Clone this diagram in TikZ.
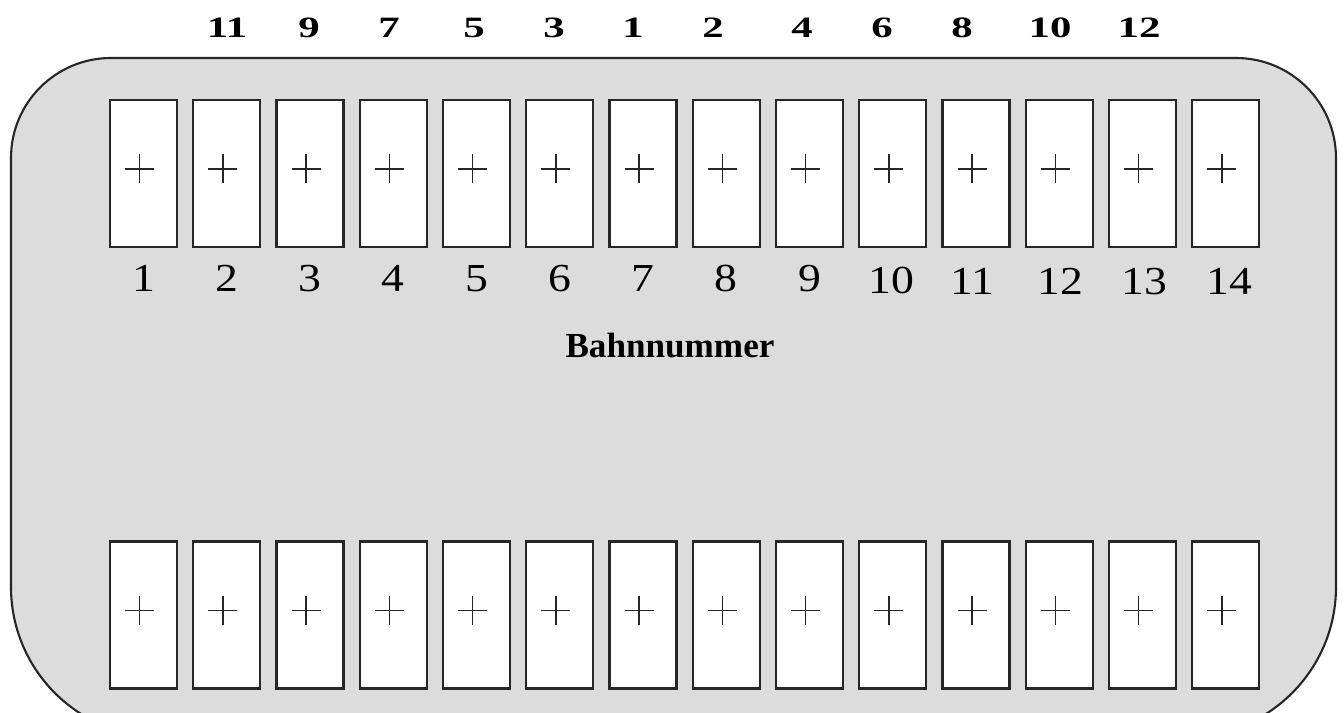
\documentclass[tikz,border=0pt]{standalone}
\usepackage{fontspec}
\setmainfont{Liberation Serif}
\newfontfamily\lanefont[FakeStretch=1.15]{Liberation Serif}
\newfontfamily\startfont[FakeStretch=1.45]{Liberation Serif}
\usepackage{xcolor}
\usepackage{tikz}
\definecolor{LaneGray}{HTML}{DCDCDC}
\definecolor{LaneLine}{HTML}{262626}
\tikzset{
  lane/.style={draw=LaneLine,line width=0.6pt,fill=white,minimum width=0.67cm,minimum height=1.47cm,inner sep=0pt,
    path picture={
      \draw[LaneLine,line width=0.45pt] ([xshift=-0.185cm,yshift=0.045cm]path picture bounding box.center) -- ++(0.29,0);
      \draw[LaneLine,line width=0.45pt] ([xshift=-0.04cm,yshift=-0.10cm]path picture bounding box.center) -- ++(0,0.29);
    }},
  lanenum/.style={anchor=base,inner sep=0pt,font=\lanefont\fontsize{11.3}{13}\selectfont},
  startnum/.style={anchor=base,inner sep=0pt,font=\startfont\bfseries\fontsize{8.4}{10}\selectfont}
}

\begin{document}
\begin{tikzpicture}[x=1cm,y=1cm]
\path[use as bounding box] (0,0) rectangle (13.44,7.13);
\begin{scope}
\clip (0,0) rectangle (13.44,7.13);
\draw[LaneLine,fill=LaneGray,line width=0.6pt] (0.11,3) [rounded corners=1.0cm] -- (0.11,6.55) -- (13.36,6.55) -- (13.36,3)
  [rounded corners=1.5cm] -- (13.36,-0.24) -- (0.11,-0.24) -- cycle;
\end{scope}
% top row
\node[lane] (t1) at (1.435,5.395) {};
\node[lane] (t2) at (2.268,5.395) {};
\node[lane] (t3) at (3.100,5.395) {};
\node[lane] (t4) at (3.933,5.395) {};
\node[lane] (t5) at (4.765,5.395) {};
\node[lane] (t6) at (5.598,5.395) {};
\node[lane] (t7) at (6.430,5.395) {};
\node[lane] (t8) at (7.263,5.395) {};
\node[lane] (t9) at (8.095,5.395) {};
\node[lane] (t10) at (8.928,5.395) {};
\node[lane] (t11) at (9.760,5.395) {};
\node[lane] (t12) at (10.593,5.395) {};
\node[lane] (t13) at (11.425,5.395) {};
\node[lane] (t14) at (12.258,5.395) {};
% bottom row
\node[lane] (b1) at (1.435,0.98) {};
\node[lane] (b2) at (2.268,0.98) {};
\node[lane] (b3) at (3.100,0.98) {};
\node[lane] (b4) at (3.933,0.98) {};
\node[lane] (b5) at (4.765,0.98) {};
\node[lane] (b6) at (5.598,0.98) {};
\node[lane] (b7) at (6.430,0.98) {};
\node[lane] (b8) at (7.263,0.98) {};
\node[lane] (b9) at (8.095,0.98) {};
\node[lane] (b10) at (8.928,0.98) {};
\node[lane] (b11) at (9.760,0.98) {};
\node[lane] (b12) at (10.593,0.98) {};
\node[lane] (b13) at (11.425,0.98) {};
\node[lane] (b14) at (12.258,0.98) {};
% lane numbers
\node[lanenum] (n1) at (1.435,4.21) {1};
\node[lanenum] (n2) at (2.268,4.21) {2};
\node[lanenum] (n3) at (3.100,4.21) {3};
\node[lanenum] (n4) at (3.933,4.21) {4};
\node[lanenum] (n5) at (4.765,4.21) {5};
\node[lanenum] (n6) at (5.598,4.21) {6};
\node[lanenum] (n7) at (6.430,4.21) {7};
\node[lanenum] (n8) at (7.263,4.21) {8};
\node[lanenum] (n9) at (8.095,4.21) {9};
\node[lanenum] (n10) at (8.910,4.19) {10};
\node[lanenum] (n11) at (9.720,4.18) {11};
\node[lanenum] (n12) at (10.605,4.18) {12};
\node[lanenum] (n13) at (11.445,4.18) {13};
\node[lanenum] (n14) at (12.290,4.18) {14};
\node[anchor=base,inner sep=0pt,font=\bfseries\fontsize{10}{12}\selectfont] (title) at (6.70,3.55) {Bahnnummer};
% start order
\node[startnum] (s11) at (2.27,6.75) {11};
\node[startnum] (s9) at (3.09,6.75) {9};
\node[startnum] (s7) at (3.89,6.75) {7};
\node[startnum] (s5) at (4.74,6.75) {5};
\node[startnum] (s3) at (5.54,6.75) {3};
\node[startnum] (s1) at (6.33,6.75) {1};
\node[startnum] (s2) at (7.13,6.75) {2};
\node[startnum] (s4) at (8.02,6.75) {4};
\node[startnum] (s6) at (8.82,6.75) {6};
\node[startnum] (s8) at (9.62,6.75) {8};
\node[startnum] (s10) at (10.50,6.75) {10};
\node[startnum] (s12) at (11.39,6.75) {12};
\end{tikzpicture}
\end{document}
